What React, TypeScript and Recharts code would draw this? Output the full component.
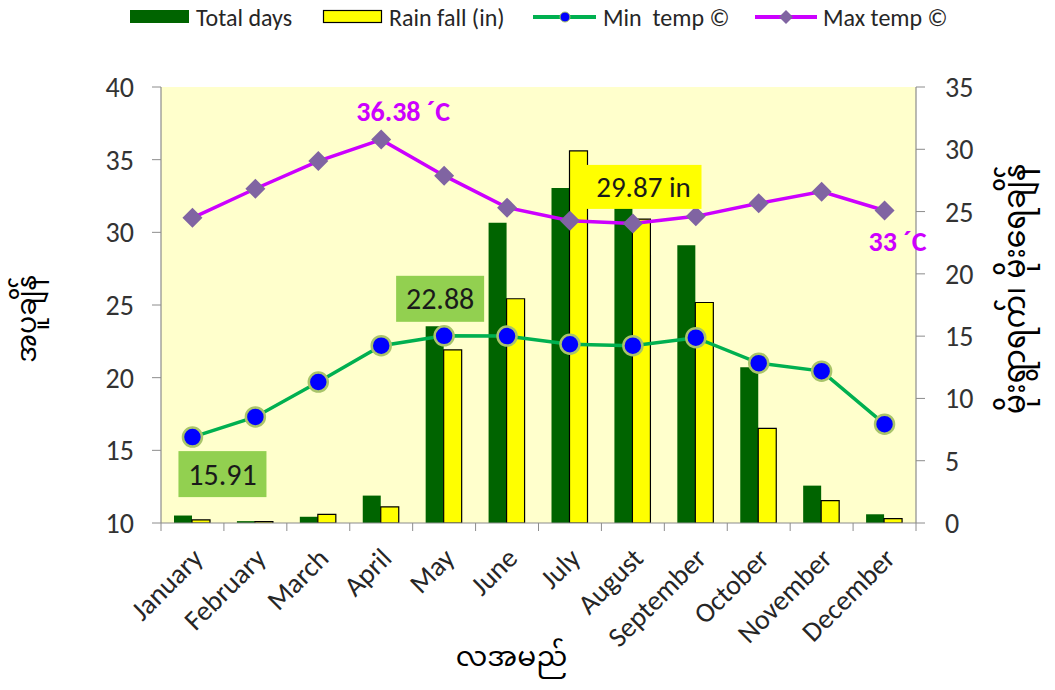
import React from "react";
import {
  ComposedChart,
  Bar,
  Line,
  XAxis,
  YAxis,
  CartesianGrid,
} from "recharts";

const months = [
  "January", "February", "March", "April", "May", "June",
  "July", "August", "September", "October", "November", "December",
];
const totalDays = [0.6, 0.15, 0.5, 2.2, 15.8, 24.1, 26.9, 25.3, 22.3, 12.5, 3.0, 0.7];
const rainfall = [0.25, 0.12, 0.7, 1.3, 13.9, 18.0, 29.87, 24.4, 17.7, 7.6, 1.8, 0.35];
const minTemp = [15.91, 17.3, 19.7, 22.2, 22.88, 22.86, 22.3, 22.2, 22.75, 21.0, 20.45, 16.8];
const maxTemp = [31.0, 33.0, 34.9, 36.38, 33.9, 31.7, 30.8, 30.6, 31.1, 32.0, 32.8, 31.5];

const leftTicks = [10, 15, 20, 25, 30, 35, 40];
const rightTicks = [0, 5, 10, 15, 20, 25, 30, 35];

const seriesNames = ["Total days", "Rain fall (in)", "Min  temp \u00A9", "Max temp \u00A9"];
const xTitle = "လအမည်";
const leftTitle = "အပူချိန်";
const rightTitle = "မိုးရွာရက်၊ မိုးရေချိန်";

const maxLabelIdx = 3;
const maxLabelText = "36.38 ´C";
const maxEndLabelIdx = 11;
const maxEndLabelText = "33 ´C";
const minLabelIdx = [0, 4];
const rainLabelIdx = 6;

const data = months.map((m, i) => ({
  month: m,
  days: totalDays[i],
  rain: rainfall[i],
  min: minTemp[i],
  max: maxTemp[i],
}));

const FONT = "Carlito, 'Liberation Sans', Arial, sans-serif";
const MY_FONT = "'Noto Sans Myanmar', Padauk, 'Myanmar Text', 'Noto Sans', sans-serif";

const XTick = (props: any) => {
  const { x, y, payload, index } = props;
  const off = payload && payload.offset ? payload.offset : 31.46;
  return (
    <g>
      <line x1={x - off} y1={y} x2={x - off} y2={y + 8} stroke="#8c8c8c" strokeWidth={1} />
      {index === months.length - 1 ? (
        <line x1={x + off} y1={y} x2={x + off} y2={y + 8} stroke="#8c8c8c" strokeWidth={1} />
      ) : null}
      <text
        x={x + 12}
        y={y + 37}
        transform={`rotate(-45 ${x + 12} ${y + 37})`}
        textAnchor="end"
        fontFamily={FONT}
        fontSize={28}
        fill="#262626"
      >
        {payload.value}
      </text>
    </g>
  );
};

const MinDot = (props: any) => {
  const { cx, cy, index } = props;
  if (cx == null || cy == null) return <g key={index} />;
  return (
    <circle key={index} cx={cx} cy={cy} r={9.5} fill="#0000FF" stroke="#A9C46A" strokeWidth={2.5} />
  );
};

const MaxDot = (props: any) => {
  const { cx, cy, index } = props;
  if (cx == null || cy == null) return <g key={index} />;
  const s = 10;
  return (
    <polygon
      key={index}
      points={`${cx},${cy - s} ${cx + s},${cy} ${cx},${cy + s} ${cx - s},${cy}`}
      fill="#8064A2"
    />
  );
};

const maxLabel = (props: any) => {
  const { x, y, index } = props;
  if (index === maxLabelIdx) {
    return (
      <text key={index} x={x + 22} y={y - 28} textAnchor="middle" dominantBaseline="central"
        fontFamily={FONT} fontWeight="bold" fontSize={28} fill="#CC00FF">
        {maxLabelText}
      </text>
    );
  }
  if (index === maxEndLabelIdx) {
    return (
      <text key={index} x={x + 13} y={y + 31} textAnchor="middle" dominantBaseline="central"
        fontFamily={FONT} fontWeight="bold" fontSize={28} fill="#CC00FF">
        {maxEndLabelText}
      </text>
    );
  }
  return <g key={index} />;
};

const minLabel = (props: any) => {
  const { x, y, index, value } = props;
  if (!minLabelIdx.includes(index)) return <g key={index} />;
  const cx = index === 0 ? x + 30 : x - 4;
  const cy = index === 0 ? y + 37 : y - 37;
  return (
    <g key={index}>
      <rect x={cx - 44} y={cy - 23} width={88} height={46} fill="#92D050" />
      <text x={cx} y={cy} textAnchor="middle" dominantBaseline="central"
        fontFamily={FONT} fontSize={30} fill="#1a1a1a">
        {value}
      </text>
    </g>
  );
};

const rainLabel = (props: any) => {
  const { x, y, width, index, value } = props;
  if (index !== rainLabelIdx) return <g key={index} />;
  const cx = x + width / 2 + 65;
  const cy = y + 36;
  return (
    <g key={index}>
      <rect x={cx - 58} y={cy - 22} width={116} height={44} fill="#FFFF00" />
      <text x={cx} y={cy} textAnchor="middle" dominantBaseline="central"
        fontFamily={FONT} fontSize={29} fill="#1a1a1a">
        {`${value} in`}
      </text>
    </g>
  );
};

const LeftTitle = (props: any) => {
  const vb = props.viewBox || { x: 0, y: 87, width: 161, height: 436 };
  const cx = vb.x + 29;
  const cy = vb.y + vb.height / 2 + 14;
  return (
    <text x={cx} y={cy} transform={`rotate(-90 ${cx} ${cy})`} textAnchor="middle"
      dominantBaseline="central" fontFamily={MY_FONT} fontSize={27} fill="#000">
      {leftTitle}
    </text>
  );
};

const RightTitle = (props: any) => {
  const vb = props.viewBox || { x: 916, y: 87, width: 139, height: 436 };
  const cx = vb.x + 102;
  const cy = vb.y + vb.height / 2 - 16;
  return (
    <text x={cx} y={cy} transform={`rotate(-90 ${cx} ${cy})`} textAnchor="middle"
      dominantBaseline="central" fontFamily={MY_FONT} fontSize={30} fill="#000">
      {rightTitle}
    </text>
  );
};

const XTitle = (props: any) => {
  const vb = props.viewBox || { x: 161, y: 523, width: 755, height: 167 };
  const cx = vb.x + vb.width / 2 - 27;
  const cy = vb.y + 136;
  return (
    <text x={cx} y={cy} textAnchor="middle" dominantBaseline="central"
      fontFamily={MY_FONT} fontSize={28} fill="#000">
      {xTitle}
    </text>
  );
};

const Legend = () => (
  <svg width={1055} height={40} style={{ position: "absolute", left: 0, top: 0 }}>
    <rect x={130} y={10} width={59} height={13} fill="#006400" />
    <text x={196} y={17} dominantBaseline="central" fontFamily={FONT} fontSize={24} fill="#262626">
      {seriesNames[0]}
    </text>
    <rect x={323.5} y={10.5} width={58} height={12} fill="#FFFF00" stroke="#000" strokeWidth={1.2} />
    <text x={389} y={17} dominantBaseline="central" fontFamily={FONT} fontSize={24} fill="#262626">
      {seriesNames[1]}
    </text>
    <line x1={533} y1={17} x2={596} y2={17} stroke="#00B050" strokeWidth={4} />
    <circle cx={565} cy={17} r={5} fill="#0000FF" stroke="#A9C46A" strokeWidth={1} />
    <text x={603} y={17} dominantBaseline="central" fontFamily={FONT} fontSize={24} fill="#262626"
      style={{ whiteSpace: "pre" }}>
      {seriesNames[2]}
    </text>
    <line x1={755} y1={17} x2={817} y2={17} stroke="#CC00FF" strokeWidth={4} />
    <polygon points="786,10 793,17 786,24 779,17" fill="#8064A2" />
    <text x={823} y={17} dominantBaseline="central" fontFamily={FONT} fontSize={24} fill="#262626">
      {seriesNames[3]}
    </text>
  </svg>
);

export default function App() {
  return (
    <div style={{ position: "absolute", left: 0, top: 0, width: 1055, height: 690, background: "#fff" }}>
      <ComposedChart
        width={1055}
        height={690}
        data={data}
        margin={{ top: 87, right: 0, bottom: 0, left: 0 }}
        barCategoryGap={13}
        barGap={0}
      >
        <CartesianGrid yAxisId="left" horizontal={false} vertical={false} fill="#FFFFCC" stroke="none" />
        <XAxis
          dataKey="month"
          height={167}
          interval={0}
          tickLine={false}
          tickSize={0}
          tickMargin={0}
          axisLine={{ stroke: "#8c8c8c", strokeWidth: 1.2 }}
          tick={<XTick />}
          label={<XTitle />}
        />
        <YAxis
          yAxisId="left"
          orientation="left"
          width={161}
          domain={[10, 40]}
          ticks={leftTicks}
          interval={0}
          allowDataOverflow
          tickSize={9}
          tickMargin={18}
          axisLine={{ stroke: "#8c8c8c", strokeWidth: 1.2 }}
          tickLine={{ stroke: "#8c8c8c" }}
          tick={{ fontFamily: FONT, fontSize: 28, fill: "#333333" }}
          label={<LeftTitle />}
        />
        <YAxis
          yAxisId="right"
          orientation="right"
          width={139}
          domain={[0, 35]}
          ticks={rightTicks}
          interval={0}
          allowDataOverflow
          tickSize={9}
          tickMargin={20}
          axisLine={{ stroke: "#8c8c8c", strokeWidth: 1.2 }}
          tickLine={{ stroke: "#8c8c8c" }}
          tick={{ fontFamily: FONT, fontSize: 28, fill: "#333333" }}
          label={<RightTitle />}
        />
        <Bar yAxisId="right" dataKey="days" fill="#006400" isAnimationActive={false} />
        <Bar yAxisId="right" dataKey="rain" fill="#FFFF00" stroke="#000" strokeWidth={1.2}
          isAnimationActive={false} label={rainLabel} />
        <Line yAxisId="left" dataKey="min" stroke="#00B050" strokeWidth={3.5} dot={<MinDot />}
          activeDot={false} isAnimationActive={false} label={minLabel} />
        <Line yAxisId="left" dataKey="max" stroke="#CC00FF" strokeWidth={3.5} dot={<MaxDot />}
          activeDot={false} isAnimationActive={false} label={maxLabel} />
      </ComposedChart>
      <Legend />
    </div>
  );
}
